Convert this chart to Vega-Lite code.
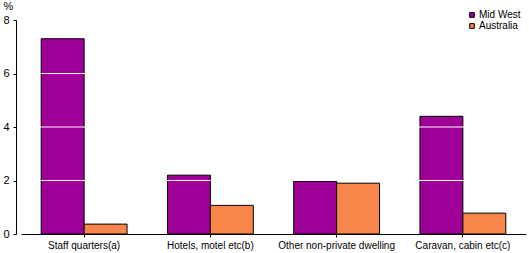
{
  "$schema": "https://vega.github.io/schema/vega-lite/v6.json",
  "width": 505,
  "height": 214,
  "autosize": {"type": "none"},
  "padding": {"left": 21, "top": 20, "right": 3, "bottom": 19},
  "background": "white",
  "config": {
    "view": {"stroke": null},
    "font": "Liberation Sans"
  },
  "datasets": {
    "bars": [
      {"category": "Staff quarters(a)", "region": "Mid West", "value": 7.3},
      {"category": "Staff quarters(a)", "region": "Australia", "value": 0.37},
      {"category": "Hotels, motel etc(b)", "region": "Mid West", "value": 2.2},
      {"category": "Hotels, motel etc(b)", "region": "Australia", "value": 1.07},
      {"category": "Other non-private dwelling", "region": "Mid West", "value": 1.97},
      {"category": "Other non-private dwelling", "region": "Australia", "value": 1.9},
      {"category": "Caravan, cabin etc(c)", "region": "Mid West", "value": 4.4},
      {"category": "Caravan, cabin etc(c)", "region": "Australia", "value": 0.78}
    ],
    "grid": [{"value": 2}, {"value": 4}, {"value": 6}]
  },
  "layer": [
    {
      "data": {"name": "bars"},
      "mark": {"type": "bar", "stroke": "black", "strokeWidth": 1},
      "encoding": {
        "x": {
          "field": "category",
          "type": "nominal",
          "sort": null,
          "title": null,
          "scale": {"paddingInner": 0.32, "paddingOuter": 0.16},
          "axis": {
            "labelAngle": 0,
            "labelFontSize": 10,
            "labelColor": "black",
            "domainColor": "black",
            "tickColor": "black",
            "tickSize": 3,
            "labelPadding": 3,
            "zindex": 1
          }
        },
        "xOffset": {"field": "region", "type": "nominal", "sort": ["Mid West", "Australia"]},
        "y": {
          "field": "value",
          "type": "quantitative",
          "scale": {"domain": [0, 8]},
          "title": "%",
          "axis": {
            "values": [0, 2, 4, 6, 8],
            "grid": false,
            "offset": 5,
            "domainColor": "black",
            "tickColor": "black",
            "tickSize": 3,
            "labelFontSize": 11,
            "labelColor": "black",
            "labelPadding": 4,
            "titleAngle": 0,
            "titleFontSize": 11,
            "titleFontWeight": "normal",
            "titleColor": "black",
            "titleAlign": "left",
            "titleBaseline": "middle",
            "titleX": -13,
            "titleY": -14
          }
        },
        "color": {
          "field": "region",
          "type": "nominal",
          "sort": ["Mid West", "Australia"],
          "scale": {"domain": ["Mid West", "Australia"], "range": ["#9E0098", "#F8864A"]},
          "legend": {
            "title": null,
            "orient": "none",
            "legendX": 446,
            "legendY": -10,
            "symbolType": "square",
            "symbolSize": 22,
            "symbolStrokeColor": "black",
            "symbolStrokeWidth": 1,
            "symbolOpacity": 1,
            "labelFontSize": 10,
            "labelColor": "black",
            "labelOffset": 2,
            "rowPadding": 1
          }
        }
      }
    },
    {
      "data": {"name": "grid"},
      "mark": {"type": "rule", "color": "white", "strokeWidth": 1},
      "encoding": {
        "y": {"field": "value", "type": "quantitative"}
      }
    }
  ]
}
